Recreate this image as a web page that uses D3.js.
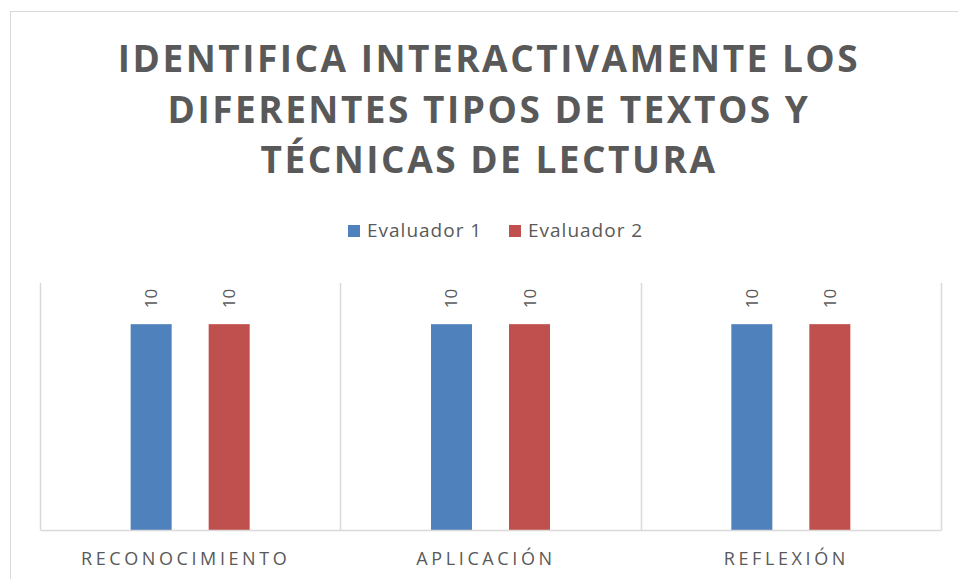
<!DOCTYPE html>
<html>
<head>
<meta charset="utf-8">
<script src="https://cdn.jsdelivr.net/npm/d3@7"></script>
<style>
  body { margin: 0; background: #fff; }
  svg { display: block; font-family: "Open Sans", sans-serif; }
</style>
</head>
<body>
<svg id="chart" width="958" height="579"></svg>
<script>
// chart data
const categories = ["RECONOCIMIENTO", "APLICACIÓN", "REFLEXIÓN"];
const seriesNames = ["Evaluador 1", "Evaluador 2"];
const evaluador1 = [10, 10, 10];
const evaluador2 = [10, 10, 10];
const titleLines = ["IDENTIFICA INTERACTIVAMENTE LOS", "DIFERENTES TIPOS DE TEXTOS Y", "TÉCNICAS DE LECTURA"];
const yMax = 12;

const colors = ["#4f81bd", "#c0504d"];
const textGray = "#595959";
const gridGray = "#d9d9d9";

const width = 958, height = 579;
const margin = {top: 283, right: 17, bottom: 49, left: 40};

const svg = d3.select("#chart");

// outer chart border
svg.append("rect")
    .attr("x", 10.5).attr("y", 11.5)
    .attr("width", 980).attr("height", 600)
    .attr("fill", "none")
    .attr("stroke", gridGray);

// title
svg.append("g").selectAll("text")
    .data(titleLines)
    .enter()
    .append("text")
    .attr("x", 489)
    .attr("y", (d, i) => 72 + i * 50.5)
    .attr("text-anchor", "middle")
    .attr("fill", textGray)
    .style("font-size", "37px")
    .style("font-weight", "bold")
    .style("letter-spacing", "2.5px")
    .text(d => d);

// legend
const legend = svg.append("g").attr("transform", "translate(348, 237)");
const legendItems = legend.selectAll("g")
    .data(seriesNames)
    .enter()
    .append("g")
    .attr("transform", (d, i) => `translate(${i * 161}, 0)`);
legendItems.append("rect")
    .attr("x", 0).attr("y", -12)
    .attr("width", 12).attr("height", 12)
    .attr("fill", (d, i) => colors[i]);
legendItems.append("text")
    .attr("x", 19)
    .attr("fill", textGray)
    .style("font-size", "19px")
    .style("letter-spacing", "1px")
    .text(d => d);

// scales
const x0 = d3.scaleBand()
    .domain(categories)
    .range([margin.left, width - margin.right])
    .padding(0);

const x1 = d3.scaleBand()
    .domain(seriesNames)
    .range([0, x0.bandwidth()])
    .paddingInner(37 / 78)
    .paddingOuter(1.162);

const y = d3.scaleLinear()
    .domain([0, yMax])
    .range([height - margin.bottom, margin.top]);

// vertical gridlines at category boundaries
const bounds = categories.map(c => x0(c)).concat([x0.range()[1]]);
svg.append("g").selectAll("line")
    .data(bounds)
    .enter()
    .append("line")
    .attr("x1", d => Math.round(d) + 0.5).attr("x2", d => Math.round(d) + 0.5)
    .attr("y1", y(yMax)).attr("y2", y(0))
    .attr("stroke", gridGray)
    .attr("stroke-width", 1.5);

// bars
const rows = categories.map((c, i) => ({cat: c, values: [evaluador1[i], evaluador2[i]]}));
const groups = svg.append("g").selectAll("g")
    .data(rows)
    .enter()
    .append("g")
    .attr("transform", d => `translate(${x0(d.cat)}, 0)`);

groups.selectAll("rect")
    .data(d => d.values.map((v, i) => ({name: seriesNames[i], value: v, idx: i})))
    .enter()
    .append("rect")
    .attr("x", d => x1(d.name))
    .attr("y", d => y(d.value))
    .attr("width", x1.bandwidth())
    .attr("height", d => y(0) - y(d.value))
    .attr("fill", d => colors[d.idx]);

// data labels (rotated)
groups.selectAll("text")
    .data(d => d.values.map((v, i) => ({name: seriesNames[i], value: v})))
    .enter()
    .append("text")
    .attr("transform", d => `translate(${x1(d.name) + x1.bandwidth() / 2 + 6}, ${y(d.value) - 16}) rotate(-90)`)
    .attr("fill", textGray)
    .style("font-size", "17px")
    .text(d => d.value);

// x axis
const xAxis = svg.append("g")
    .attr("transform", `translate(0, ${y(0)})`)
    .call(d3.axisBottom(x0).tickSize(0).tickPadding(0));
xAxis.select(".domain")
    .attr("stroke", gridGray)
    .attr("stroke-width", 1.5);
xAxis.selectAll("text")
    .attr("y", 35)
    .attr("dy", 0)
    .attr("dx", -4.5)
    .attr("fill", textGray)
    .style("font-family", "'Open Sans', sans-serif")
    .style("font-size", "18px")
    .style("letter-spacing", "3.6px");
</script>
</body>
</html>
